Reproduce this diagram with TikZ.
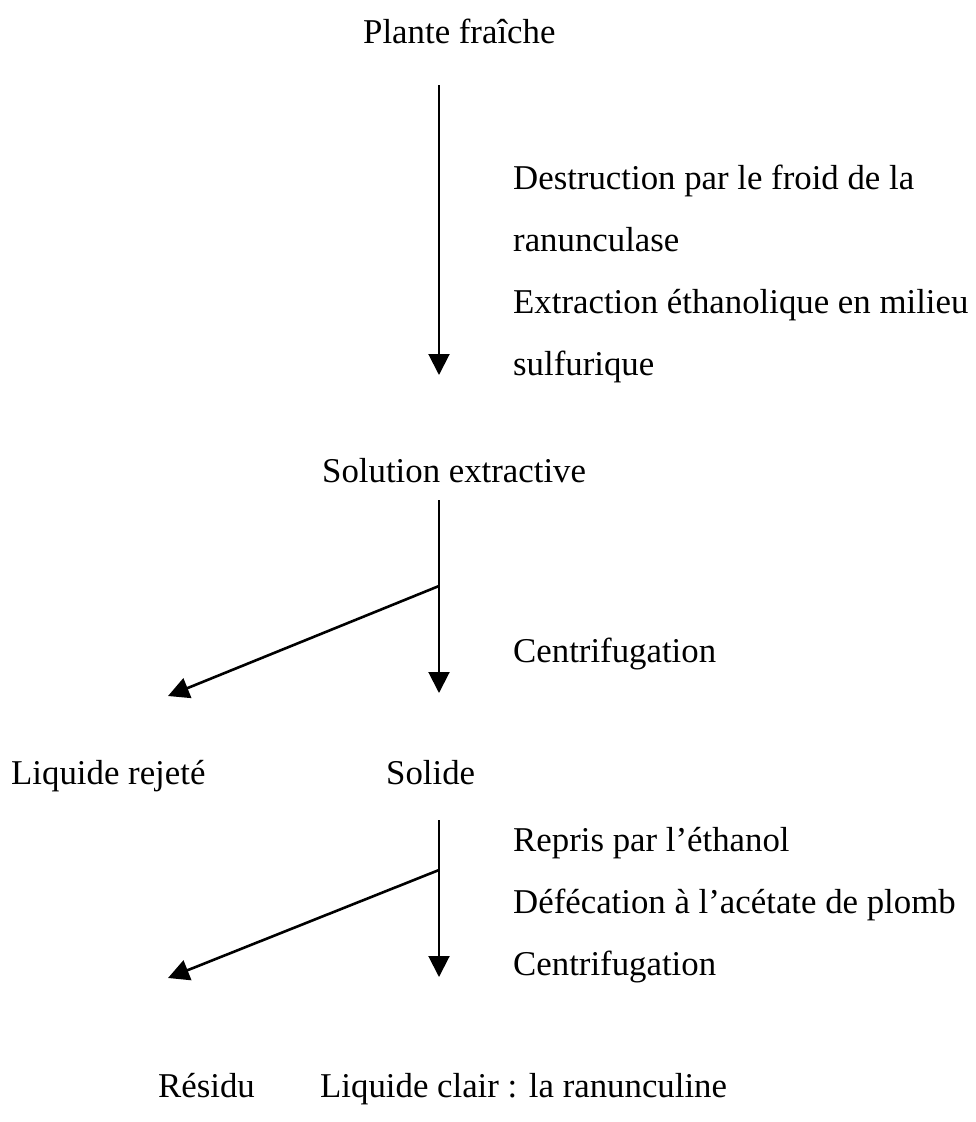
\documentclass[tikz,border=0pt]{standalone}
\usepackage{fontspec}
\setmainfont{Liberation Serif}
\usetikzlibrary{arrows.meta}

\begin{document}
\begin{tikzpicture}[x=1pt,y=-1pt,>={Triangle[width=21pt,length=21pt]},
    every node/.style={inner sep=0pt,anchor=base west,font=\fontsize{34.8}{41}\selectfont},
    flow/.style={->,line width=2pt},
    split/.style={->,line width=2.6pt}]
    \useasboundingbox (0,0) rectangle (975,1122);

    %define the products
    \node (plante)   at (363,43)   {Plante fraîche};
    \node (solution) at (322,482)  {Solution extractive};
    \node (rejete)   at (11,784)   {Liquide rejeté};
    \node (solide)   at (386,784)  {Solide};
    \node (residu)   at (158,1097) {Résidu};
    \node (clair)    at (320,1097) {Liquide clair : la ranunculine};

    %define the operations
    \node (froid1) at (513,189) {Destruction par le froid de la};
    \node (froid2) at (513,251) {ranunculase};
    \node (extr1)  at (513,313) {Extraction éthanolique en milieu};
    \node (extr2)  at (513,375) {sulfurique};
    \node (centr1) at (513,662) {Centrifugation};
    \node (repris) at (513,851) {Repris par l’éthanol};
    \node (defec)  at (513,913) {Défécation à l’acétate de plomb};
    \node (centr2) at (513,975) {Centrifugation};

    %define the ends of the links
    \coordinate (top1) at (439,85);
    \coordinate (tip1) at (439,375);
    \coordinate (top2) at (439,500);
    \coordinate (fork2) at (439,586);
    \coordinate (tip2) at (439,693);
    \coordinate (out2) at (168,696);
    \coordinate (top3) at (439,820);
    \coordinate (fork3) at (439,870);
    \coordinate (tip3) at (439,977);
    \coordinate (out3) at (168,978);

    % define the links
    \draw[flow] (top1) -- (tip1);
    \draw[flow] (top2) -- (tip2);
    \draw[split] (fork2) -- (out2);
    \draw[flow] (top3) -- (tip3);
    \draw[split] (fork3) -- (out3);
\end{tikzpicture}
\end{document}
